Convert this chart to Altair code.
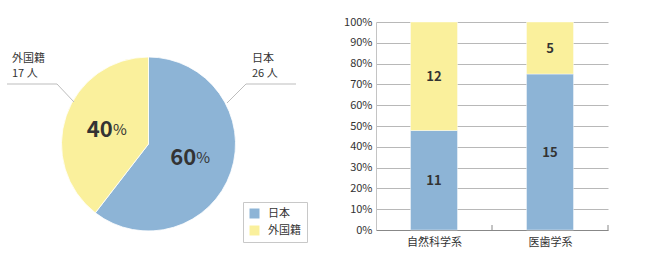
import altair as alt
import pandas as pd

# ---- data ----
origins = ["日本", "外国籍"]
origin_counts = [26, 17]
depts = ["自然科学系", "医歯学系"]
dept_japan = [11, 15]
dept_foreign = [12, 5]
y_ticks = [0, 0.1, 0.2, 0.3, 0.4, 0.5, 0.6, 0.7, 0.8, 0.9, 1.0]

BLUE = "#8db4d6"
YELLOW = "#faf09c"
TEXT = "#333333"
FONT = "Noto Sans CJK JP"
LINE = "#bdbdbd"

total = sum(origin_counts)
pie_df = pd.DataFrame({
    "origin": origins,
    "count": origin_counts,
    "order": list(range(len(origins))),
    "pct": [str(round(c / total * 100)) for c in origin_counts],
})

rows = []
for d, j, f in zip(depts, dept_japan, dept_foreign):
    rows.append({"dept": d, "origin": origins[0], "count": j, "order": 0})
    rows.append({"dept": d, "origin": origins[1], "count": f, "order": 1})
bar_df = pd.DataFrame(rows)

color = alt.Color(
    "origin:N",
    scale=alt.Scale(domain=origins, range=[BLUE, YELLOW]),
    legend=alt.Legend(
        title=None, orient="none", legendX=243, legendY=202,
        padding=6, strokeColor="#c8c8c8", fillColor="white",
        symbolType="square", symbolSize=100, symbolStrokeWidth=0,
        labelFont=FONT, labelFontSize=11, labelColor=TEXT,
        rowPadding=5, labelOffset=8,
    ),
)

# ---- pie ----
pie_base = alt.Chart(pie_df).encode(
    theta=alt.Theta("count:Q", stack=True),
    order=alt.Order("order:Q"),
    x=alt.value(148.5),
    y=alt.value(144),
)
pie = pie_base.mark_arc(radius=87, stroke="white", strokeWidth=0.8).encode(color=color)
pct_num = pie_base.mark_text(
    radius=44, font=FONT, fontSize=22, fontWeight="bold", color=TEXT, dx=-7
).encode(text="pct:N")
pct_sym = pie_base.mark_text(
    radius=44, font=FONT, fontSize=15, color=TEXT, dx=13, dy=0
).encode(text=alt.value("%"))

one = pd.DataFrame({"k": [0]})

def label(x, y, txt):
    return alt.Chart(one).mark_text(
        font=FONT, fontSize=11, color=TEXT, align="left", baseline="middle",
    ).encode(x=alt.value(x), y=alt.value(y), text=alt.value(txt))

labels = [
    label(12, 58.5, origins[1]), label(12, 73.5, f"{origin_counts[1]} 人"),
    label(252, 58.5, origins[0]), label(252, 73.5, f"{origin_counts[0]} 人"),
]

def seg(x1, y1, x2, y2):
    return alt.Chart(one).mark_rule(color=LINE, strokeWidth=1).encode(
        x=alt.value(x1), y=alt.value(y1), x2=alt.value(x2), y2=alt.value(y2))

leaders = [seg(7, 84, 57, 84), seg(57, 84, 74, 102),
           seg(227, 103, 246, 84), seg(246, 84, 296, 84)]

# ---- stacked bars ----
x_scale = alt.Scale(range=[376, 608], paddingInner=0, paddingOuter=0)
y_scale = alt.Scale(domain=[0, 1], range=[230, 22], nice=False)
x_axis = alt.Axis(
    title=None, orient="bottom", offset=-28, ticks=False, tickSize=0,
    labelPadding=6, labelAngle=0, labelFont=FONT, labelFontSize=11,
    labelColor=TEXT, domainColor="#888888", grid=False, tickBand="extent",
)
y_axis = alt.Axis(
    title=None, orient="left", offset=-376, format=".0%", values=y_ticks,
    tickCount=20, ticks=False, tickSize=0, labelPadding=4, labelFont=FONT,
    labelFontSize=11, labelColor=TEXT, domainColor="#c4c4c4",
    gridColor="#b8b8b8", grid=True, labelOverlap=False,
)

bar_base = alt.Chart(bar_df)
bars = bar_base.mark_bar(size=47, stroke="white", strokeWidth=0.6, strokeOpacity=0.7).encode(
    x=alt.X("dept:N", sort=depts, scale=x_scale, axis=x_axis),
    y=alt.Y("count:Q", stack="normalize", scale=y_scale, axis=y_axis),
    color=color,
    order=alt.Order("order:Q"),
)
bar_text = bar_base.transform_joinaggregate(
    total="sum(count)", groupby=["dept"]
).transform_window(
    cum="sum(count)", groupby=["dept"], sort=[alt.SortField("order")]
).transform_calculate(
    mid="(datum.cum - datum.count / 2) / datum.total"
).mark_text(font=FONT, fontSize=13, fontWeight="bold", color=TEXT, dy=1).encode(
    x=alt.X("dept:N", sort=depts, scale=x_scale, axis=x_axis),
    y=alt.Y("mid:Q", scale=y_scale, axis=y_axis),
    text="count:Q",
)
ticks = alt.Chart(pd.DataFrame({"dept": depts})).mark_rule(color="#888888").encode(
    x=alt.X("dept:N", sort=depts, bandPosition=1, scale=x_scale, axis=x_axis),
    y=alt.YDatum(0, scale=y_scale, axis=y_axis),
    y2=alt.value(225),
)

chart = alt.layer(
    pie, pct_num, pct_sym, *labels, *leaders,
    bars, bar_text, ticks,
).properties(
    width=656, height=258, padding=0, autosize="none", background="white"
).configure_view(stroke=None)

chart.save("out.html", embed_options={"renderer": "svg", "actions": False})
